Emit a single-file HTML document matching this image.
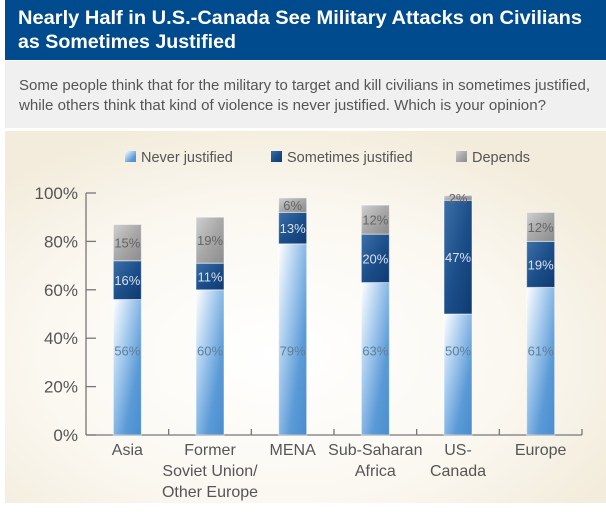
<!DOCTYPE html>
<html><head><meta charset="utf-8"><style>
body{margin:0;width:606px;height:511px;background:#fff;overflow:hidden;font-family:"Liberation Sans",sans-serif}
</style></head><body>
<svg width="606" height="511" viewBox="0 0 606 511" xmlns="http://www.w3.org/2000/svg">
<defs>
<linearGradient id="gNever" x1="0" y1="0" x2="1" y2="1"><stop offset="0" stop-color="#ffffff"/><stop offset="0.35" stop-color="#a9cdee"/><stop offset="0.7" stop-color="#5a9ad6"/><stop offset="1" stop-color="#4a8cd0"/></linearGradient>
<linearGradient id="gSome" x1="0" y1="0" x2="1" y2="1"><stop offset="0" stop-color="#3d6fa8"/><stop offset="0.5" stop-color="#1d4f8a"/><stop offset="1" stop-color="#0f3a72"/></linearGradient>
<linearGradient id="gDep" x1="0" y1="0" x2="1" y2="1"><stop offset="0" stop-color="#d0d0d0"/><stop offset="0.5" stop-color="#a8a8a8"/><stop offset="1" stop-color="#8c8c8c"/></linearGradient>
<radialGradient id="gBg" cx="0.45" cy="0.6" r="0.65"><stop offset="0" stop-color="#ffffff"/><stop offset="0.6" stop-color="#fbf8f1"/><stop offset="1" stop-color="#f3ecdc"/></radialGradient>
</defs>
<rect x="5" y="0" width="601" height="60" fill="#004b8d"/>
<text x="18" y="24" fill="#fff" font-size="19" font-weight="bold" textLength="564" lengthAdjust="spacingAndGlyphs">Nearly Half in U.S.-Canada See Military Attacks on Civilians</text>
<text x="18" y="48" fill="#fff" font-size="19" font-weight="bold" textLength="218" lengthAdjust="spacingAndGlyphs">as Sometimes Justified</text>
<rect x="5" y="61" width="601" height="67" fill="#f0f0f0"/>
<text x="19" y="90" fill="#555" font-size="14.5" textLength="571" lengthAdjust="spacingAndGlyphs">Some people think that for the military to target and kill civilians in sometimes justified,</text>
<text x="19" y="110" fill="#555" font-size="14.5" textLength="527" lengthAdjust="spacingAndGlyphs">while others think that kind of violence is never justified. Which is your opinion?</text>
<rect x="5" y="131" width="601" height="372" fill="url(#gBg)"/>
<g id="legend" font-size="14.5" fill="#555">
<rect x="125" y="151" width="11" height="11" fill="url(#gNever)"/>
<text x="141" y="162">Never justified</text>
<rect x="271" y="151" width="11" height="11" fill="url(#gSome)"/>
<text x="287" y="162">Sometimes justified</text>
<rect x="456" y="151" width="11" height="11" fill="url(#gDep)"/>
<text x="472" y="162">Depends</text>
</g>
<g id="axes"></g>
<g id="bars"></g>
</svg>
<script>
const categories = [["Asia"],["Former","Soviet Union/","Other Europe"],["MENA"],["Sub-Saharan","Africa"],["US-","Canada"],["Europe"]];
const neverVals = [56,60,79,63,50,61];
const sometimesVals = [16,11,13,20,47,19];
const dependsVals = [15,19,6,12,2,12];
const yTicks = [0,20,40,60,80,100];

const NS="http://www.w3.org/2000/svg";
const y0=435, yTop=193, axisX=86, xEnd=582, step=(xEnd-axisX)/6, barW=28;
function y(v){return y0-(y0-yTop)*v/100;}
function xc(i){return axisX+step*(i+0.5);}
function mk(tag,attrs,parent){const e=document.createElementNS(NS,tag);for(const k in attrs)e.setAttribute(k,attrs[k]);parent.appendChild(e);return e;}
const axes=document.getElementById('axes'), bars=document.getElementById('bars');
let l=mk('line',{x1:axisX,y1:y(100),x2:axisX,y2:y0,stroke:'#777','stroke-width':1.3},axes);


l=mk('line',{x1:axisX,y1:y0,x2:xEnd,y2:y0,stroke:'#777','stroke-width':1.3},axes);


yTicks.forEach(v=>{
  const t=mk('line',{x1:axisX,y1:y(v),x2:axisX+10,y2:y(v),stroke:'#777','stroke-width':1.3},axes);
  
  
  const tx=mk('text',{x:78,y:y(v)+6,'text-anchor':'end','font-size':17,fill:'#555'},axes);
  tx.textContent=v+'%';
  
  
});
categories.forEach((c,i)=>{
  const t=mk('line',{x1:axisX+step*(i+1),y1:y0-6,x2:axisX+step*(i+1),y2:y0,stroke:'#777','stroke-width':1.3},axes);
  
  
  c.forEach((s,j)=>{
    const tx=mk('text',{x:xc(i),y:455+j*21,'text-anchor':'middle','font-size':16,fill:'#555'},axes);
    tx.textContent=s;
    
    
  });
});
const series=[[neverVals,'url(#gNever)','never','#5d7f9e'],[sometimesVals,'url(#gSome)','sometimes','#d8e2ee'],[dependsVals,'url(#gDep)','depends','#666']];
categories.forEach((c,i)=>{
  let base=0;
  series.forEach(([vals,fill,nm,tc],si)=>{
    const v=vals[i];
    const r=mk('rect',{x:xc(i)-barW/2,y:y(base+v),width:barW,height:y(base)-y(base+v),fill:fill,stroke:'#fff','stroke-opacity':0.5,'stroke-width':1},bars);
    
    
    let ty = si===0 ? y(35)+5 : (y(base)+y(base+v))/2+5;
    const tx=mk('text',{x:xc(i),y:ty,'text-anchor':'middle','font-size':13,fill:tc},bars);
    tx.textContent=v+'%';
    
    
    base+=v;
  });
});
</script>
</body></html>
